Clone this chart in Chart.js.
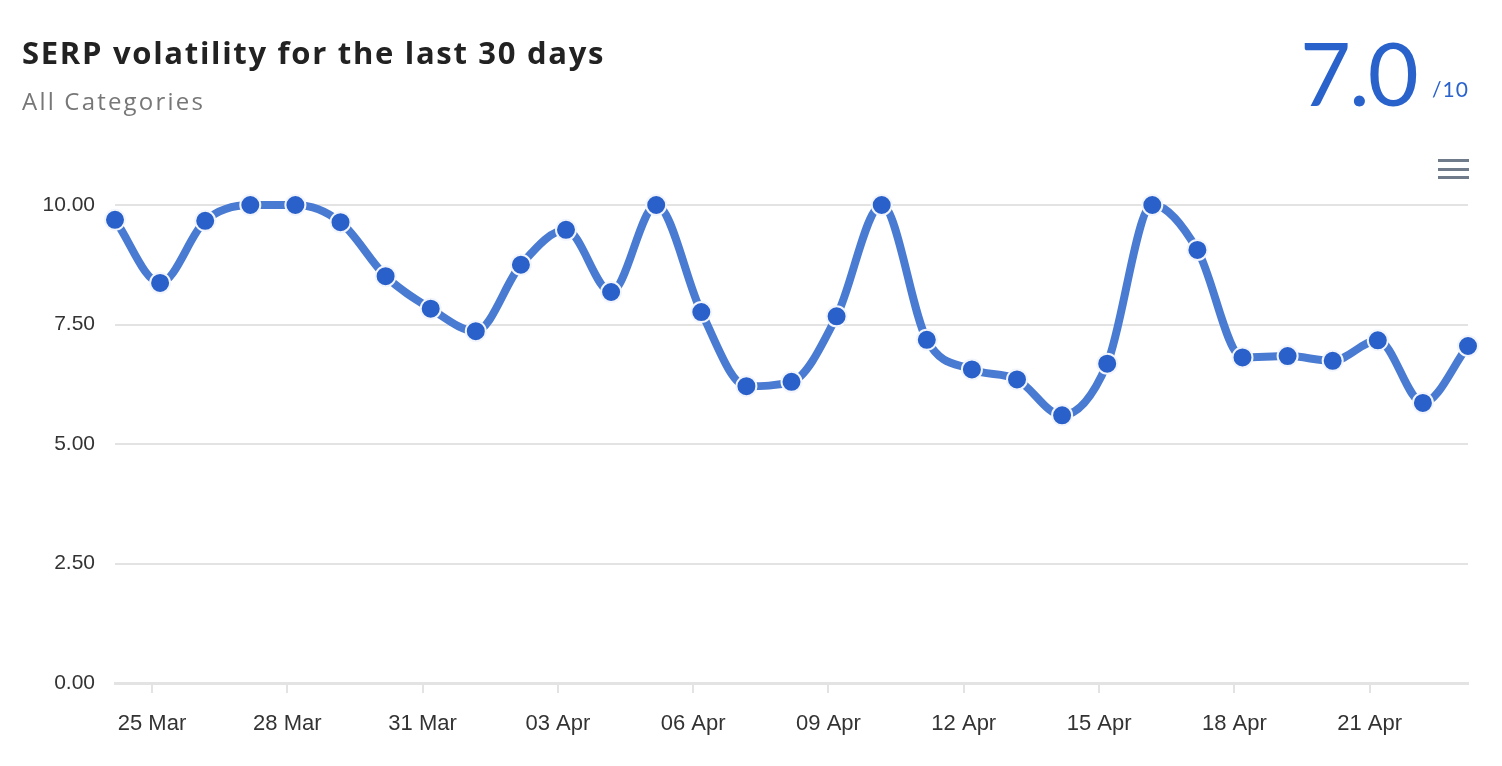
<!DOCTYPE html>
<html>
<head>
<meta charset="utf-8">
<title>SERP volatility</title>
<script src="https://cdn.jsdelivr.net/npm/chart.js@4/dist/chart.umd.min.js"></script>
<style>
  html, body { margin: 0; padding: 0; background: #fff; }
  #wrap { position: relative; width: 1502px; height: 766px; overflow: hidden; }
  #chart { position: absolute; left: 0; top: 0; }
  .title { position: absolute; left: 22px; top: 31px; font: 700 31px "Open Sans", sans-serif; color: #222; white-space: nowrap; letter-spacing: 1.7px; }
  .subtitle { position: absolute; left: 22px; top: 84px; font: 400 24px "Open Sans", sans-serif; color: #777; white-space: nowrap; letter-spacing: 2.2px; }
  .score { position: absolute; left: 1300px; top: 28px; font: 400 88px Lato, sans-serif; color: #2a62cc; letter-spacing: -2px; line-height: 1; }
  .outof { position: absolute; left: 1432px; top: 76px; font: 400 21px Lato, sans-serif; color: #2a62cc; letter-spacing: 1px; }
  .menu { position: absolute; left: 1438px; width: 31px; height: 3px; background: #6f7b8b; }
</style>
</head>
<body>
<div id="wrap">
  <canvas id="chart" width="1502" height="766"></canvas>
  <div class="title">SERP volatility for the last 30 days</div>
  <div class="subtitle">All Categories</div>
  <div class="score">7.0</div>
  <div class="outof">/10</div>
  <div class="menu" style="top:159px"></div>
  <div class="menu" style="top:168px"></div>
  <div class="menu" style="top:176px"></div>
</div>
<script>
// one point per day, 24 Mar .. 23 Apr
const DATES = [
  '24 Mar', '25 Mar', '26 Mar', '27 Mar', '28 Mar', '29 Mar', '30 Mar', '31 Mar',
  '01 Apr', '02 Apr', '03 Apr', '04 Apr', '05 Apr', '06 Apr', '07 Apr', '08 Apr',
  '09 Apr', '10 Apr', '11 Apr', '12 Apr', '13 Apr', '14 Apr', '15 Apr', '16 Apr',
  '17 Apr', '18 Apr', '19 Apr', '20 Apr', '21 Apr', '22 Apr', '23 Apr'
];

const VOLATILITY = [
  9.69, 8.37, 9.67, 10.0, 10.0, 9.64, 8.51, 7.83,
  7.36, 8.75, 9.48, 8.18, 10.0, 7.76, 6.21, 6.30,
  7.67, 10.0, 7.18, 6.56, 6.35, 5.60, 6.68, 10.0,
  9.06, 6.81, 6.84, 6.74, 7.17, 5.86, 7.05
];

const TICK_LABELS = ['25 Mar', '28 Mar', '31 Mar', '03 Apr', '06 Apr', '09 Apr', '12 Apr', '15 Apr', '18 Apr', '21 Apr'];
const Y_TICKS = [0, 2.5, 5, 7.5, 10];

// points are stamped a few hours after midnight, ticks sit at midnight
const DAY_OFFSET = 0.18;

const COLORS = {
  line: '#4a7bd2',
  point: '#2a60c9',
  pointBorder: '#f2f5fc',
  grid: '#e3e3e3',
  axis: '#e3e3e3',
  text: '#333'
};

const points = VOLATILITY.map((v, i) => ({ x: i, y: v }));
const tickValues = TICK_LABELS.map(l => DATES.indexOf(l) - DAY_OFFSET);

new Chart(document.getElementById('chart'), {
  type: 'line',
  data: {
    datasets: [{
      data: points,
      borderColor: COLORS.line,
      borderWidth: 8,
      cubicInterpolationMode: 'monotone',
      pointRadius: 10,
      pointBackgroundColor: COLORS.point,
      pointBorderColor: COLORS.pointBorder,
      pointBorderWidth: 2,
      clip: false
    }]
  },
  options: {
    responsive: false,
    animation: false,
    layout: { padding: { left: 0, right: 34, top: 205, bottom: 23 } },
    plugins: { legend: { display: false }, tooltip: { enabled: false } },
    scales: {
      x: {
        type: 'linear',
        min: 0,
        max: DATES.length - 1,
        afterBuildTicks: scale => { scale.ticks = tickValues.map(v => ({ value: v })); },
        afterFit: scale => { scale.height = 60; },
        ticks: {
          autoSkip: false,
          maxRotation: 0,
          padding: 18,
          color: COLORS.text,
          font: { family: 'Liberation Sans, Arial, sans-serif', size: 22 },
          callback: (v, i) => TICK_LABELS[i]
        },
        grid: { drawOnChartArea: false, drawTicks: true, tickLength: 10, color: COLORS.axis, lineWidth: 2 },
        border: { display: true, color: COLORS.axis, width: 3 }
      },
      y: {
        min: 0,
        max: 10,
        afterBuildTicks: scale => { scale.ticks = Y_TICKS.map(v => ({ value: v })); },
        afterFit: scale => { scale.width = 115; },
        ticks: {
          padding: 20,
          color: COLORS.text,
          font: { family: 'Liberation Sans, Arial, sans-serif', size: 21 },
          callback: v => v.toFixed(2)
        },
        grid: { color: COLORS.grid, lineWidth: 2, drawTicks: false },
        border: { display: false }
      }
    }
  }
});
</script>
</body>
</html>
